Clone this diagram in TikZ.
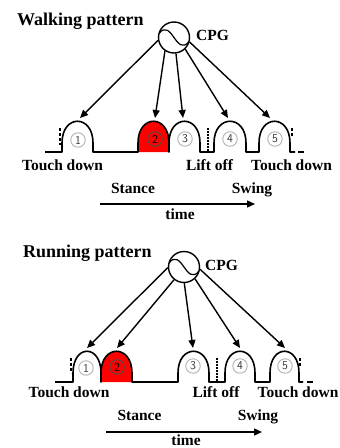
\documentclass[tikz,border=0pt]{standalone}
\usepackage{fontspec}
\setmainfont{Liberation Serif}
\usetikzlibrary{arrows.meta}

% impulso: #1 = x iniziale, #2 = x finale, #3 = linea di base
\newcommand\impulso[3]{(#1,#3) -- (#1,#3-9) .. controls (#1,#3-38) and (#2,#3-38) .. (#2,#3-9) -- (#2,#3)}

\begin{document}
\begin{tikzpicture}[x=1pt, y=-1pt, >={Triangle[length=8pt,width=7pt]}]
	% Stili
	\tikzset{
		cpg/.style={circle, draw, line width=1.4pt, minimum size=31pt, inner sep=0pt},
		numero/.style={circle, draw=gray!60, line width=0.9pt, minimum size=14.5pt, inner sep=0pt, text=gray!45!black, font=\sffamily\fontsize{12}{12}\selectfont},
		etichetta/.style={anchor=base, inner sep=0pt, font=\bfseries\fontsize{15.5}{16}\selectfont},
		titolo/.style={anchor=base west, inner sep=0pt, font=\bfseries\fontsize{18}{20}\selectfont},
		segnale/.style={line width=1.6pt, line join=round},
		freccia/.style={->, line width=1.4pt},
		tratteggio/.style={line width=1.3pt, dash pattern=on 3pt off 2pt}
	}
	\useasboundingbox (0,0) rectangle (340,448);

	% ---------------- Walking ----------------
	\node[titolo] (tw) at (17,25) {Walking pattern};
	\node[cpg] (cw) at (174,37.5) {};
	\draw[line width=1.2pt, shift={(cw)}] (-15,-4) .. controls (-9,-12) and (-4,-6) .. (0,0) .. controls (4,6) and (9,12) .. (15,4);
	\node[etichetta, anchor=base west] (lw) at (196,40) {CPG};

	% segnale
	\fill[red] \impulso{138}{169}{152} -- cycle;
	\draw[segnale] (45,152) -- \impulso{62}{93}{152} -- \impulso{138}{169}{152} -- \impulso{169}{200}{152} -- \impulso{214}{246}{152} -- \impulso{259}{290}{152} -- (295,152);
	\draw[line width=1.6pt] (298,152) -- (304,152);
	\draw[tratteggio] (60,128) -- (60,145);
	\draw[tratteggio] (292,128) -- (292,136);
	\draw[line width=1.3pt, dash pattern=on 1.5pt off 1.5pt] (208,128) -- (208,152);

	% numeri
	\node[numero] (nw1) at (78,140) {1};
	\node[numero, draw=black!70, text=black] (nw2) at (155,139) {2};
	\node[numero] (nw3) at (185,139) {3};
	\node[numero] (nw4) at (230,139) {4};
	\node[numero] (nw5) at (275,139) {5};

	% frecce dal CPG
	\coordinate (w1) at (80,118);
	\coordinate (w2) at (155,118);
	\coordinate (w3) at (183,118);
	\coordinate (w4) at (228,118);
	\coordinate (w5) at (270,118);
	\draw[freccia] (cw.190) -- (w1);
	\draw[freccia] (cw.236) -- (w2);
	\draw[freccia] (cw.277) -- (w3);
	\draw[freccia] (cw.314) -- (w4);
	\draw[freccia] (cw.344) -- (w5);

	% testi
	\node[etichetta] (tdw1) at (62.5,170) {Touch down};
	\node[etichetta] (low) at (209.5,170) {Lift off};
	\node[etichetta] (tdw2) at (291.5,170) {Touch down};
	\node[etichetta] (sw) at (133,193) {Stance};
	\node[etichetta] (gw) at (252,193) {Swing};
	\coordinate (aw) at (100,204);
	\coordinate (bw) at (255,204);
	\draw[freccia] (aw) -- (bw);
	\node[etichetta] (timew) at (180,219) {time};

	% ---------------- Running ----------------
	\node[titolo] (tr) at (23,257) {Running pattern};
	\node[cpg] (cr) at (184,267) {};
	\draw[line width=1.2pt, shift={(cr)}] (-15,-4) .. controls (-9,-12) and (-4,-6) .. (0,0) .. controls (4,6) and (9,12) .. (15,4);
	\node[etichetta, anchor=base west] (lr) at (205,270) {CPG};

	% segnale
	\fill[red] \impulso{101}{132}{382} -- cycle;
	\draw[segnale] (55,382) -- \impulso{73}{101}{382} -- \impulso{101}{132}{382} -- \impulso{178}{209}{382} -- \impulso{225}{255}{382} -- \impulso{270}{299}{382} -- (303,382);
	\draw[line width=1.6pt] (307,382) -- (313,382);
	\draw[tratteggio] (71,358) -- (71,373);
	\draw[tratteggio] (300,358) -- (300,366);
	\draw[line width=1.3pt, dash pattern=on 1.5pt off 1.5pt] (217,358) -- (217,382);

	% numeri
	\node[numero] (nr1) at (86,368) {1};
	\node[numero, draw=black!70, text=black] (nr2) at (117,367) {2};
	\node[numero] (nr3) at (193,366) {3};
	\node[numero] (nr4) at (240,366) {4};
	\node[numero] (nr5) at (285,366) {5};

	% frecce dal CPG
	\coordinate (r1) at (87,348);
	\coordinate (r2) at (117,348);
	\coordinate (r3) at (193,348);
	\coordinate (r4) at (240,348);
	\coordinate (r5) at (285,348);
	\draw[freccia] (cr.182) -- (r1);
	\draw[freccia] (cr.232) -- (r2);
	\draw[freccia] (cr.271) -- (r3);
	\draw[freccia] (cr.313) -- (r4);
	\draw[freccia] (cr.352) -- (r5);

	% testi
	\node[etichetta] (tdr1) at (69,397) {Touch down};
	\node[etichetta] (lor) at (216,397) {Lift off};
	\node[etichetta] (tdr2) at (298,397) {Touch down};
	\node[etichetta] (sr) at (139.5,420) {Stance};
	\node[etichetta] (gr) at (258,420) {Swing};
	\coordinate (ar) at (106,432);
	\coordinate (br) at (262,432);
	\draw[freccia] (ar) -- (br);
	\node[etichetta] (timer) at (186,445.5) {time};
\end{tikzpicture}
\end{document}
